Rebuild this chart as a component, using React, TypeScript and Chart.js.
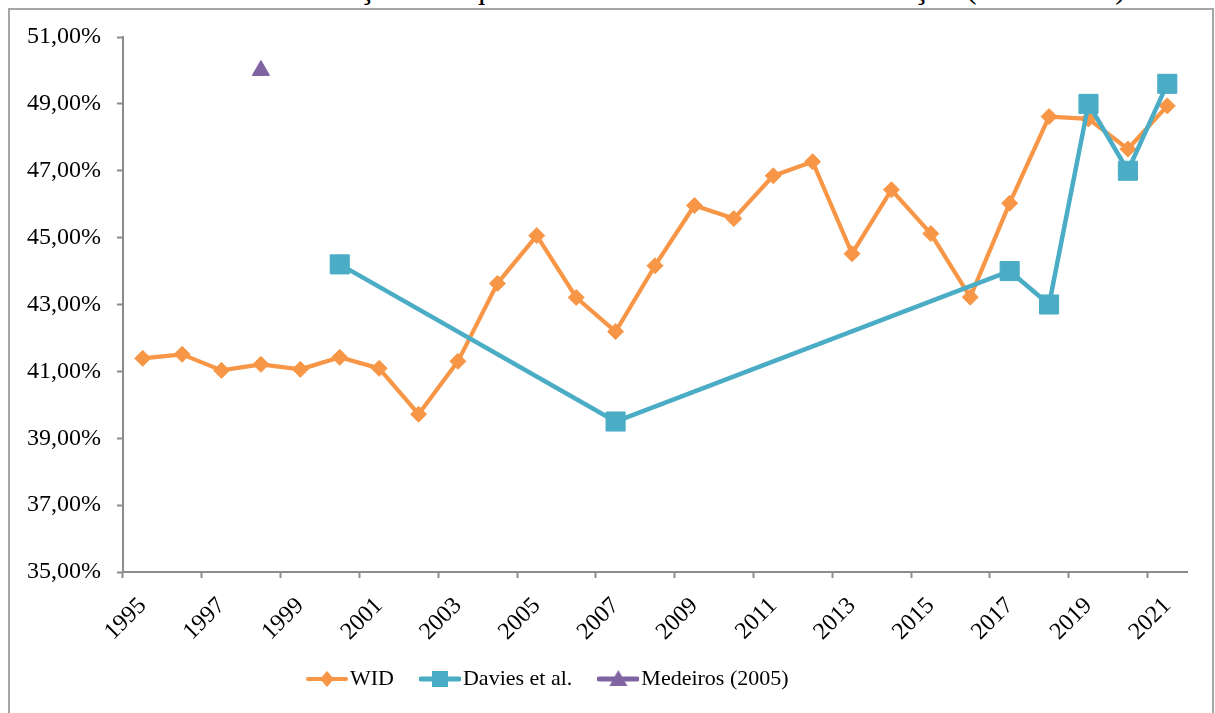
import React, { useEffect, useRef } from 'react';
import { Chart, registerables } from 'chart.js';

Chart.register(...registerables);

const TITLE = 'Gráfico 3: Concentração da riqueza no 1% mais rico da distribuição (1995-2021)';

const years = [
  '1995', '1996', '1997', '1998', '1999', '2000', '2001', '2002', '2003', '2004',
  '2005', '2006', '2007', '2008', '2009', '2010', '2011', '2012', '2013', '2014',
  '2015', '2016', '2017', '2018', '2019', '2020', '2021',
];

const widValues = [
  41.39, 41.51, 41.03, 41.21, 41.06, 41.42, 41.09, 39.72, 41.3, 43.63,
  45.06, 43.21, 42.19, 44.16, 45.96, 45.57, 46.85, 47.27, 44.52, 46.43,
  45.12, 43.22, 46.03, 48.62, 48.55, 47.65, 48.94,
];

const daviesValues: (number | null)[] = [
  null, null, null, null, null, 44.2, null, null, null, null,
  null, null, 39.5, null, null, null, null, null, null, null,
  null, null, 44.0, 43.0, 49.0, 47.0, 49.6,
];

const medeirosValues: (number | null)[] = [
  null, null, null, 50.0, null, null, null, null, null, null,
  null, null, null, null, null, null, null, null, null, null,
  null, null, null, null, null, null, null,
];

const seriesLabels = ['WID', 'Davies et al.', 'Medeiros (2005)'];
const yMin = 35;
const yMax = 51;
const yStep = 2;

const ORANGE = '#F79646';
const BLUE = '#4BACC6';
const PURPLE = '#8064A2';
const AXIS = '#8c8c8c';
const FONT = "'Liberation Serif', 'Times New Roman', serif";

function makeIcon(color: string, lineW: number, marker: string) {
  const c = document.createElement('canvas');
  c.width = 42;
  c.height = 24;
  const g = c.getContext('2d')!;
  g.strokeStyle = color;
  g.lineWidth = lineW;
  g.lineCap = 'round';
  g.beginPath();
  g.moveTo(2, 12);
  g.lineTo(40, 12);
  g.stroke();
  g.fillStyle = color;
  g.beginPath();
  if (marker === 'diamond') {
    g.moveTo(21, 4);
    g.lineTo(28, 12);
    g.lineTo(21, 20);
    g.lineTo(14, 12);
  } else if (marker === 'square') {
    g.rect(13, 4, 16, 16);
  } else {
    g.moveTo(21, 3);
    g.lineTo(30, 19);
    g.lineTo(12, 19);
  }
  g.closePath();
  g.fill();
  return c;
}

export default function App() {
  const ref = useRef<HTMLCanvasElement | null>(null);

  useEffect(() => {
    if (!ref.current) return;
    const icons = [
      makeIcon(ORANGE, 4, 'diamond'),
      makeIcon(BLUE, 5, 'square'),
      makeIcon(PURPLE, 5, 'triangle'),
    ];
    const legendPlacer = {
      id: 'legendPlacer',
      beforeDraw(chart: any) {
        const lg = chart.legend;
        if (lg) {
          const h = lg.height;
          lg.left = 281;
          lg.top = 634;
          lg.bottom = 634 + h;
        }
      },
    };
    const chart = new Chart(ref.current, {
      type: 'line',
      data: {
        labels: years,
        datasets: [
          {
            label: seriesLabels[0],
            data: widValues,
            borderColor: ORANGE,
            backgroundColor: ORANGE,
            borderWidth: 4.2,
            pointStyle: 'rectRot',
            pointRadius: 8,
            pointBorderWidth: 1,
            pointBackgroundColor: ORANGE,
            pointBorderColor: ORANGE,
            tension: 0,
            borderJoinStyle: 'round',
            order: 3,
          },
          {
            label: seriesLabels[1],
            data: daviesValues,
            borderColor: BLUE,
            backgroundColor: BLUE,
            borderWidth: 4.5,
            pointStyle: 'rect',
            pointRadius: 13.5,
            pointBorderWidth: 1,
            pointBackgroundColor: BLUE,
            pointBorderColor: BLUE,
            spanGaps: true,
            tension: 0,
            borderJoinStyle: 'round',
            order: 2,
          },
          {
            label: seriesLabels[2],
            data: medeirosValues,
            borderColor: PURPLE,
            backgroundColor: PURPLE,
            borderWidth: 4.5,
            pointStyle: 'triangle',
            pointRadius: 10,
            pointBorderWidth: 1,
            pointBackgroundColor: PURPLE,
            pointBorderColor: PURPLE,
            order: 1,
          },
        ],
      },
      options: {
        responsive: false,
        animation: false,
        devicePixelRatio: 1,
        layout: { padding: { top: 37, right: 28, left: 0, bottom: 5 } },
        plugins: {
          title: { display: false },
          tooltip: { enabled: false },
          legend: {
            position: 'bottom',
            align: 'start',
            labels: {
              usePointStyle: true,
              pointStyleWidth: 24,
              padding: 34,
              color: '#000',
              font: { family: FONT, size: 22 },
              generateLabels: (ch: any) =>
                ch.data.datasets.map((ds: any, i: number) => ({
                  text: ds.label,
                  pointStyle: icons[i],
                  fillStyle: ds.borderColor,
                  strokeStyle: ds.borderColor,
                  lineWidth: 0,
                  hidden: false,
                  datasetIndex: i,
                  fontColor: '#000',
                })),
            },
          },
        },
        scales: {
          x: {
            type: 'category',
            offset: true,
            afterFit: (s: any) => {
              s.height = 70;
            },
            grid: {
              offset: true,
              drawOnChartArea: false,
              drawTicks: true,
              tickLength: 6,
              tickWidth: 2,
              tickColor: (c: any) => (typeof c.index === 'number' && c.index % 2 === 0 ? AXIS : 'rgba(0,0,0,0)'),
            },
            border: { color: AXIS, width: 2 },
            ticks: {
              autoSkip: false,
              minRotation: 45,
              maxRotation: 45,
              padding: 14,
              color: '#000',
              font: { family: FONT, size: 24 },
              callback: (_v: any, i: number) => (i % 2 === 0 ? years[i] : ''),
            },
          },
          y: {
            min: yMin,
            max: yMax,
            afterFit: (s: any) => {
              s.width = 123;
            },
            grid: {
              drawOnChartArea: false,
              drawTicks: true,
              tickLength: 6,
              tickWidth: 2,
              tickColor: AXIS,
            },
            border: { color: AXIS, width: 2 },
            ticks: {
              stepSize: yStep,
              padding: 16,
              color: '#000',
              font: { family: FONT, size: 24 },
              callback: (v: any) => Number(v).toFixed(2).replace('.', ',') + '%',
            },
          },
        },
      },
      plugins: [legendPlacer],
    } as any);
    return () => chart.destroy();
  }, []);

  return (
    <div
      style={{
        position: 'fixed',
        left: 0,
        top: 0,
        width: 1215,
        height: 713,
        overflow: 'hidden',
        background: '#fff',
      }}
    >
      <div
        style={{
          position: 'absolute',
          top: -29,
          left: 0,
          width: 1215,
          textAlign: 'center',
          fontFamily: FONT,
          fontSize: 32,
          lineHeight: '32px',
          whiteSpace: 'nowrap',
          color: '#000',
        }}
      >
        {TITLE}
      </div>
      <div
        style={{
          position: 'absolute',
          left: 8,
          top: 8,
          width: 1206,
          height: 760,
          boxSizing: 'border-box',
          border: '2px solid #a6a6a6',
        }}
      />
      <canvas
        ref={ref}
        width={1215}
        height={713}
        style={{ position: 'absolute', left: 0, top: 0, display: 'block' }}
      />
    </div>
  );
}
